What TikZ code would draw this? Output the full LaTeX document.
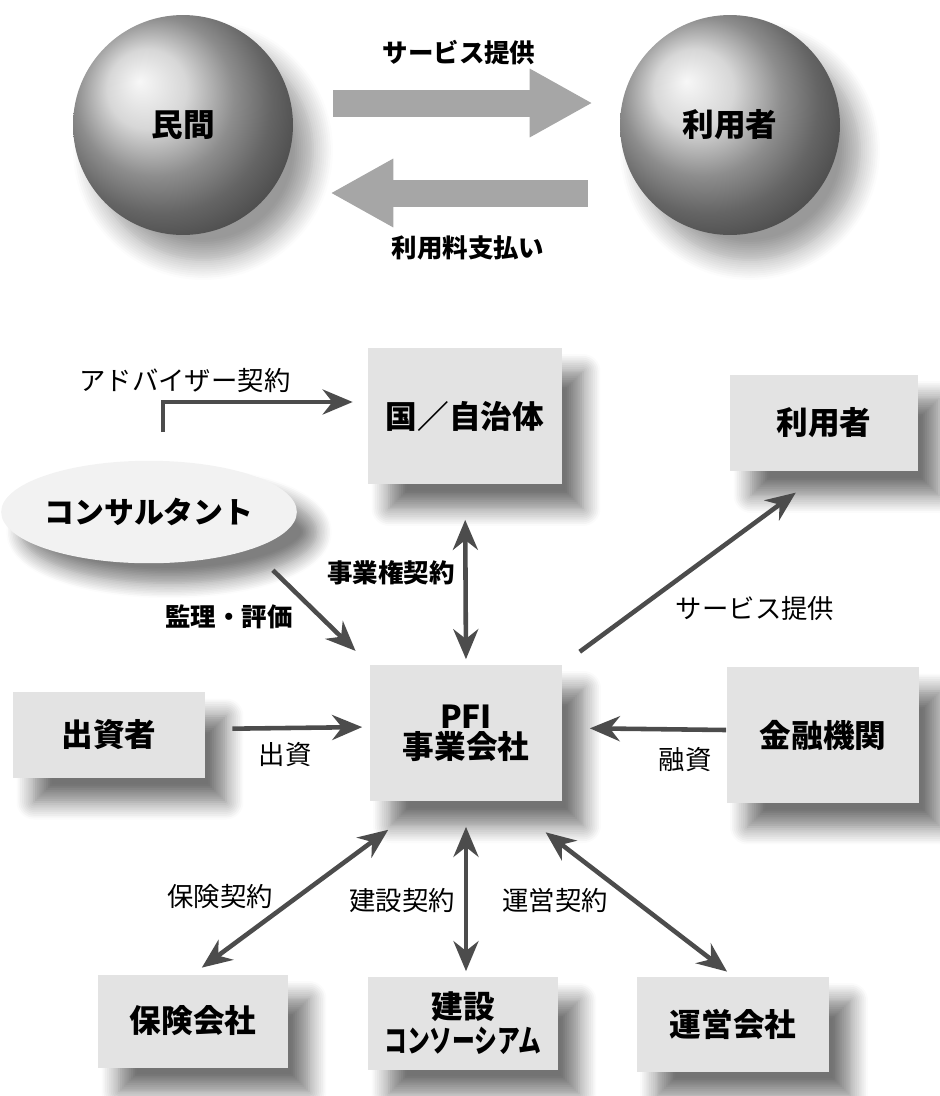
\documentclass[tikz,border=0pt]{standalone}
\usepackage{fontspec}
\setmainfont{Noto Sans CJK JP}
\usetikzlibrary{arrows.meta,shapes.geometric,shadows.blur}

\begin{document}
\begin{tikzpicture}[
        x=0.02cm, y=-0.02cm,
        sphere/.style={circle, ball color=gray!42, minimum size=4.4cm, inner sep=0pt,
            blur shadow={shadow xshift=0.4cm, shadow yshift=-0.5cm, shadow blur steps=10,
                shadow blur radius=0.4cm, shadow opacity=40},
            font=\fontsize{18}{20}\selectfont\bfseries},
        card/.style={rectangle, fill=gray!22, align=center, inner sep=0pt,
            blur shadow={shadow xshift=0.42cm, shadow yshift=-0.48cm, shadow blur steps=10,
                shadow blur radius=0.35cm, shadow opacity=55},
            font=\fontsize{18}{17}\selectfont\bfseries},
        fat/.style={line width=0.54cm, draw=gray!70, -{Triangle[length=1.26cm, width=1.28cm]}},
        link/.style={line width=2.6pt, draw=black!70, -{Stealth[length=0.6cm, width=0.5cm]}},
        twoway/.style={link, {Stealth[length=0.6cm, width=0.5cm]}-{Stealth[length=0.6cm, width=0.5cm]}},
        lbl/.style={font=\fontsize{15}{17}\selectfont},
        boldlbl/.style={font=\fontsize{14.5}{17}\selectfont\bfseries}
    ]
    \useasboundingbox (0,0) rectangle (940,1096);
    % Oben: Kugeln
    \node[sphere] (min) at (183,125) {民間};
    \node[sphere] (user) at (730,125) {利用者};
    \draw[fat] ([shift={(40,-22)}]min.east) -- ([shift={(-27,-22)}]user.west);
    \draw[fat] ([shift={(-32,68)}]user.west) -- ([shift={(37,68)}]min.east);
    \node[boldlbl] (svctop) at (459,53) {サービス提供};
    \node[boldlbl] (pay) at (468,248) {利用料支払い};
    % Unten: Beteiligte
    \node[card, minimum width=3.88cm, minimum height=2.74cm] (gov) at (465,416) {国／自治体};
    \node[card, minimum width=3.76cm, minimum height=1.94cm] (user2) at (824,423) {利用者};
    \node[ellipse, fill=gray!10, minimum width=4.6cm, minimum height=2.05cm, inner sep=0pt,
        blur shadow={shadow xshift=0.4cm, shadow yshift=-0.4cm, shadow blur steps=10,
            shadow blur radius=0.3cm, shadow opacity=50},
        font=\fontsize{17}{19}\selectfont\bfseries] (cons) at (149,512) {コンサルタント};
    \node[card, minimum width=3.84cm, minimum height=1.72cm] (investor) at (109,735) {出資者};
    \node[card, minimum width=3.86cm, minimum height=2.74cm] (pfi) at (466,733) {PFI\\事業会社};
    \node[card, minimum width=3.86cm, minimum height=2.72cm] (bank) at (823,735) {金融機関};
    \node[card, minimum width=3.80cm, minimum height=1.86cm] (insurer) at (193,1021) {保険会社};
    \node[card, minimum width=3.80cm, minimum height=1.86cm] (builder) at (463,1023)
        {建設\\[2pt]\scalebox{0.72}[1]{コンソーシアム}};
    \node[card, minimum width=3.86cm, minimum height=1.90cm] (operator) at (733,1024) {運営会社};
    % Verbindungen
    \coordinate (advbase) at (163,432);
    \draw[link, shorten >=0.3cm] (advbase) |- ([yshift=0.28cm]gov.west);
    \draw[link, shorten <=0.6cm, shorten >=0.38cm] (cons.-20) -- (pfi.north west);
    \draw[twoway, shorten <=0.7cm, shorten >=0.1cm] (gov.south) -- (pfi.north);
    \draw[link, shorten <=0.42cm, shorten >=0.7cm] (pfi.north east) -- (user2.south);
    \draw[link, shorten <=0.54cm, shorten >=0.14cm] ([yshift=0.12cm]investor.east) -- ([yshift=0.12cm]pfi.west);
    \draw[link, shorten >=0.54cm] ([yshift=0.1cm]bank.west) -- ([yshift=0.1cm]pfi.east);
    \draw[twoway, shorten <=0.94cm, shorten >=0.22cm] ([xshift=-0.8cm]pfi.south) -- (insurer.north);
    \draw[twoway, shorten <=0.5cm, shorten >=0.1cm] (pfi.south) -- (pfi.south |- builder.north);
    \draw[twoway, shorten <=1.0cm, shorten >=0.15cm] ([xshift=0.8cm]pfi.south) -- (operator.north);
    % Beschriftungen
    \node[lbl] (advlbl) at (185,380) {アドバイザー契約};
    \node[boldlbl] (supervlbl) at (229,617) {監理・評価};
    \node[boldlbl] (conclbl) at (391,573) {事業権契約};
    \node[lbl] (svclbl) at (755,608) {サービス提供};
    \node[lbl] (invlbl) at (285,755) {出資};
    \node[lbl] (loanlbl) at (685,760) {融資};
    \node[lbl] (inslbl) at (220,897) {保険契約};
    \node[lbl] (buildlbl) at (402,900) {建設契約};
    \node[lbl] (oplbl) at (555,900) {運営契約};
\end{tikzpicture}
\end{document}
